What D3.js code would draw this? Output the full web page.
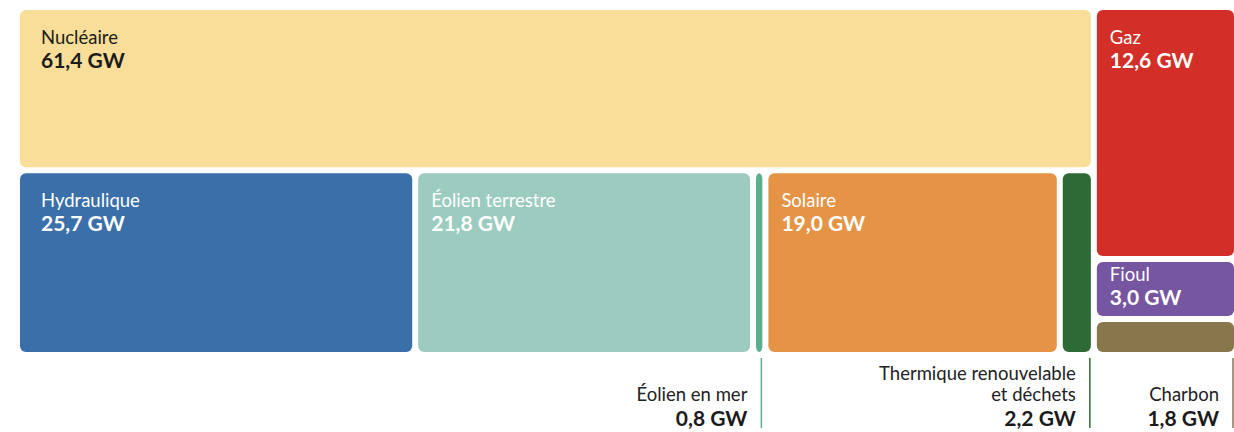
<!DOCTYPE html>
<html>
<head>
<meta charset="utf-8">
<style>
body { margin: 0; background: #fff; }
svg text { font-family: Lato, "Noto Sans", sans-serif; }
.name { font-size: 18.5px; }
.val { font-size: 21px; font-weight: 700; }
</style>
</head>
<body>
<div id="ch1"></div>
<script src="https://d3js.org/d3.v7.min.js"></script>
<script>

// puissance installée par filière (GW)
var categories = ["Nucléaire", "Hydraulique", "Éolien terrestre", "Éolien en mer", "Solaire",
                  "Thermique renouvelable\net déchets", "Gaz", "Fioul", "Charbon"];
var values = [61.4, 25.7, 21.8, 0.8, 19.0, 2.2, 12.6, 3.0, 1.8];
var colors = ["#f8de98", "#3a6faa", "#9ccbbf", "#5aaf8f", "#e59446",
              "#2e6a35", "#d32f28", "#7656a0", "#88774d"];
var valueLabels = ["61,4 GW", "25,7 GW", "21,8 GW", "0,8 GW", "19,0 GW",
                   "2,2 GW", "12,6 GW", "3,0 GW", "1,8 GW"];

var width = 1234, height = 432;
var margin = {top: 10, left: 20, right: 0};
var tmW = 1214, tmH = 342;

function leaf(i) { return {i: i, value: values[i]}; }

// gauche : nucléaire au-dessus, le reste en ligne ; droite : fossiles en colonne
var tree = {children: [
  {children: [leaf(0), {children: [1, 2, 3, 4, 5].map(leaf)}]},
  {children: [6, 7, 8].map(leaf)}
]};

var root = d3.hierarchy(tree).sum(function(d) { return d.children ? 0 : d.value; });

d3.treemap()
  .size([tmW, tmH])
  .paddingInner(6)
  .tile(d3.treemapSliceDice)(root);

var svg = d3.select("#ch1").append("svg")
  .attr("width", width)
  .attr("height", height);

var g = svg.append("g")
  .attr("transform", "translate(" + margin.left + "," + margin.top + ")");

var leaves = root.leaves();

var cell = g.selectAll(".cell")
  .data(leaves)
  .enter().append("g")
  .attr("class", "cell");

cell.append("rect")
  .attr("x", function(d) { return d.x0; })
  .attr("y", function(d) { return d.y0; })
  .attr("width", function(d) { return d.x1 - d.x0; })
  .attr("height", function(d) { return d.y1 - d.y0; })
  .attr("rx", 6)
  .attr("fill", function(d) { return colors[d.data.i]; });

function isSmall(d) { return (d.x1 - d.x0) < 60 || (d.y1 - d.y0) < 45; }

// étiquettes à l'intérieur
var inside = cell.filter(function(d) { return !isSmall(d); });

inside.each(function(d) {
  var el = d3.select(this);
  var padX = d.x0 < 1 ? 21 : 13;
  var top = d.y0 + Math.min(34, (d.y1 - d.y0) * 0.35);
  var fill = d.data.i === 0 ? "#1b1b1b" : "#fff";
  el.append("text")
    .attr("class", "name")
    .attr("x", d.x0 + padX)
    .attr("y", top)
    .attr("fill", fill)
    .text(categories[d.data.i]);
  el.append("text")
    .attr("class", "val")
    .attr("x", d.x0 + padX)
    .attr("y", top + 24)
    .attr("fill", fill)
    .text(valueLabels[d.data.i]);
});

// étiquettes sous le graphique pour les petites cases
var outside = cell.filter(function(d) { return isSmall(d); });
var baseY = tmH;

outside.each(function(d) {
  var el = d3.select(this);
  var lx = d.x1 - 1;
  el.append("line")
    .attr("x1", lx).attr("x2", lx)
    .attr("y1", baseY + 6).attr("y2", baseY + 76)
    .attr("stroke", colors[d.data.i])
    .attr("stroke-width", 1.5);
  var lines = categories[d.data.i].split("\n");
  lines.forEach(function(t, k) {
    el.append("text")
      .attr("class", "name")
      .attr("x", lx - 14)
      .attr("y", baseY + 49 - (lines.length - 1 - k) * 21)
      .attr("text-anchor", "end")
      .attr("fill", "#222")
      .text(t);
  });
  el.append("text")
    .attr("class", "val")
    .attr("x", lx - 14)
    .attr("y", baseY + 74)
    .attr("text-anchor", "end")
    .attr("fill", "#1b1b1b")
    .text(valueLabels[d.data.i]);
});

</script>
</body>
</html>
